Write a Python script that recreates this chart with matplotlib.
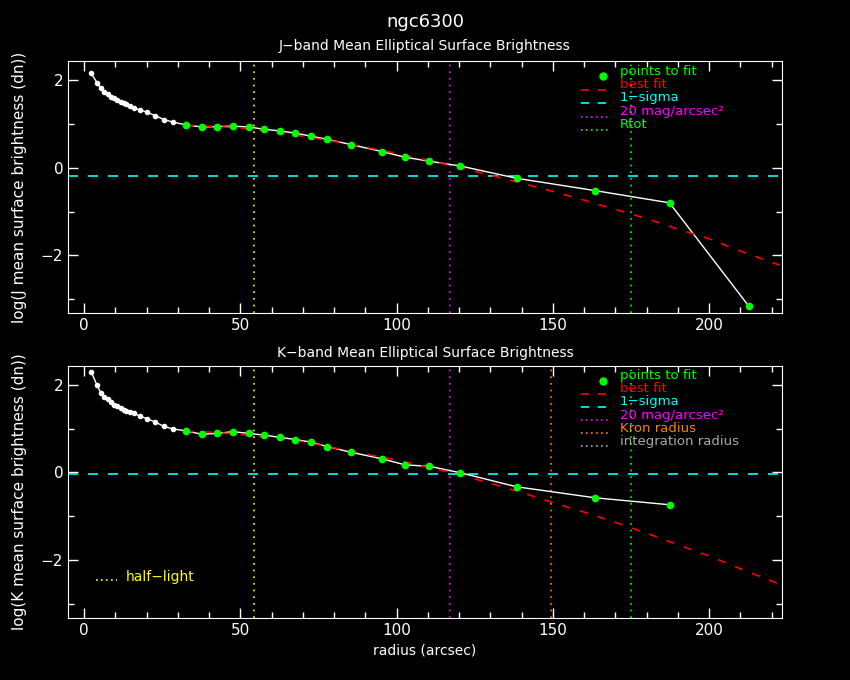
import matplotlib
matplotlib.use('Agg')
import matplotlib.pyplot as plt
from matplotlib.lines import Line2D
import numpy as np

# radii of the profile points (arcsec)
radius = [2.2, 4.1, 5.3, 6.4, 7.5, 8.5, 9.5, 10.6, 11.7, 12.6, 13.5, 14.6, 15.9, 17.9, 20.0,
          22.7, 25.5, 28.5, 32.5, 37.6, 42.5, 47.6, 52.6, 57.6, 62.6, 67.6, 72.7, 77.7, 85.3,
          95.3, 102.7, 110.4, 120.4, 138.4, 163.4, 187.3, 212.7]
j_sb = [2.16, 1.94, 1.81, 1.74, 1.68, 1.62, 1.59, 1.55, 1.51, 1.47, 1.45, 1.41, 1.36, 1.32, 1.27,
        1.19, 1.10, 1.04, 0.98, 0.93, 0.94, 0.95, 0.93, 0.88, 0.84, 0.79, 0.72, 0.65, 0.53,
        0.37, 0.24, 0.15, 0.04, -0.24, -0.52, -0.80, -3.16]
k_sb = [2.30, 1.99, 1.82, 1.73, 1.68, 1.60, 1.55, 1.51, 1.47, 1.43, 1.40, 1.37, 1.35, 1.28, 1.23,
        1.15, 1.05, 0.99, 0.95, 0.87, 0.89, 0.93, 0.89, 0.85, 0.80, 0.75, 0.69, 0.59, 0.46,
        0.31, 0.17, 0.14, -0.01, -0.33, -0.58, -0.74]
first_fit = 18  # index of first point used in the fit

# best fit curves
fit_r = [32.5, 40, 50, 60, 70, 80, 90, 100, 110, 120, 130, 140, 150, 160, 170, 180, 190, 200, 210, 222.5]
j_fit = [0.97, 0.95, 0.91, 0.83, 0.72, 0.60, 0.47, 0.33, 0.17, 0.01, -0.17, -0.35, -0.54, -0.74,
         -0.95, -1.16, -1.40, -1.62, -1.90, -2.22]
k_fit = [0.94, 0.92, 0.87, 0.79, 0.70, 0.56, 0.42, 0.28, 0.12, -0.05, -0.25, -0.46, -0.69, -0.91,
         -1.14, -1.39, -1.65, -1.91, -2.20, -2.55]

j_sigma = -0.19
k_sigma = -0.04
half_light = 54.2
r20 = 117.0
kron = 149.4
rtot = 175.0

GREEN = '#00ff00'
CYAN = '#00ffff'
MAGENTA = '#ff00ff'
ORANGE = '#ff8000'
YELLOW = '#ffff00'
GRAY = '#aaaaaa'

plt.rcParams['font.family'] = ['DejaVu Sans']

W, H = 850, 680
fig = plt.figure(figsize=(8.5, 6.8), dpi=100, facecolor='black')
ax1 = fig.add_axes([0.08, 0.5393, 0.84, 0.3706], facecolor='black')
ax2 = fig.add_axes([0.08, 0.0916, 0.84, 0.3702], facecolor='black')


def style(ax, ylab):
    ax.set_xlim(-5.2, 223.3)
    ax.set_ylim(-3.32, 2.43)
    ax.set_xticks([0, 50, 100, 150, 200])
    ax.set_xticks(np.arange(0, 230, 10), minor=True)
    ax.set_yticks([-2, 0, 2])
    ax.set_yticks([-3, -1, 1], minor=True)
    ax.set_yticklabels(['\u22122', '0', '2'])
    for s in ax.spines.values():
        s.set_color('white')
    ax.tick_params(which='both', direction='in', top=True, right=True, colors='white',
                   labelsize=11, width=1)
    ax.tick_params(which='major', length=7)
    ax.tick_params(which='minor', length=4)
    ax.set_ylabel(ylab, color='white', fontsize=11, labelpad=10)


def profile(ax, y, fit, sigma):
    r = radius[:len(y)]
    ax.axhline(sigma, color=CYAN, ls=(0, (6, 6)), lw=1.2)
    ax.plot(r, y, color='white', lw=1, marker='o', ms=3, mfc='white', mec='white', zorder=3)
    ax.plot(fit_r, fit, color='red', ls=(0, (5, 6)), lw=1.2, zorder=4)
    ax.plot(r[first_fit:], y[first_fit:], ls='none', marker='o', ms=4.5, color=GREEN, zorder=5)
    ax.axvline(half_light, color=YELLOW, ls=(0, (1, 3)), lw=1.2)
    ax.axvline(r20, color=MAGENTA, ls=(0, (1, 3)), lw=1.2)


def legend(top, items, step):
    # top: pixel row of first legend text; items: (label, color, kind, linestyle)
    for i, (lab, col, kind, lst) in enumerate(items):
        yt = top + step * i
        yl = 1 - (yt + 5) / H
        if kind == 'dot':
            fig.add_artist(Line2D([603 / W], [yl], marker='o', ms=5, color=GREEN, ls='none'))
        else:
            fig.add_artist(Line2D([581 / W, 611 / W], [yl, yl], color=col, ls=lst, lw=1.2))
        fig.text(620 / W, 1 - yt / H, lab, color=col, fontsize=9.5, va='center')


style(ax1, 'log(J mean surface brightness (dn))')
profile(ax1, j_sb, j_fit, j_sigma)
ax1.axvline(rtot, color=GREEN, ls=(0, (1, 3)), lw=1.2)
legend(71, [('points to fit', GREEN, 'dot', None),
            ('best fit', 'red', 'line', (0, (5, 5))),
            ('1\u2212sigma', CYAN, 'line', (0, (5, 5))),
            ('20 mag/arcsec\u00b2', MAGENTA, 'line', (0, (1, 2))),
            ('Rtot', GREEN, 'line', (0, (1, 2)))], 13.5)

style(ax2, 'log(K mean surface brightness (dn))')
profile(ax2, k_sb, k_fit, k_sigma)
ax2.axvline(kron, color=ORANGE, ls=(0, (1, 3)), lw=1.2)
ax2.axvline(rtot, color=GREEN, ls=(0, (1, 3)), lw=1.2)
legend(376, [('points to fit', GREEN, 'dot', None),
             ('best fit', 'red', 'line', (0, (5, 5))),
             ('1\u2212sigma', CYAN, 'line', (0, (5, 5))),
             ('20 mag/arcsec\u00b2', MAGENTA, 'line', (0, (1, 2))),
             ('Kron radius', ORANGE, 'line', (0, (1, 2))),
             ('integration radius', GRAY, 'line', (0, (1, 2)))], 13)
fig.add_artist(Line2D([96 / W, 117 / W], [1 - 580 / H, 1 - 580 / H], color=YELLOW,
                      ls=(0, (1, 2)), lw=1.2))
fig.text(126 / W, 1 - 577 / H, 'half\u2212light', color=YELLOW, fontsize=10, va='center')
ax2.set_xlabel('radius (arcsec)', color='white', fontsize=10, labelpad=4)

fig.text(0.5, 0.967, 'ngc6300', color='white', fontsize=13, ha='center', va='center')
fig.text(0.5, 0.932, 'J\u2212band Mean Elliptical Surface Brightness', color='white', fontsize=10,
         ha='center', va='center')
fig.text(0.5, 0.481, 'K\u2212band Mean Elliptical Surface Brightness', color='white', fontsize=10,
         ha='center', va='center')

fig.savefig('out.png', dpi=100, facecolor='black')
